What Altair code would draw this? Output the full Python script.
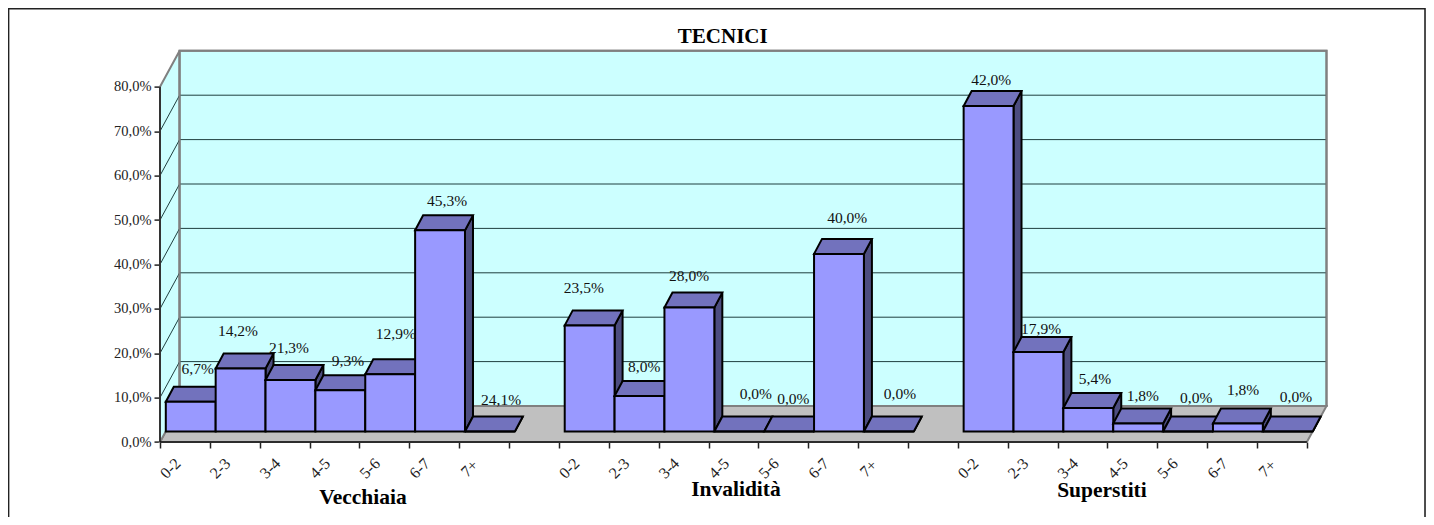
import altair as alt
import pandas as pd

# ---- values ----
groups = ["Vecchiaia", "Invalidità", "Superstiti"]
classes = ["0-2", "2-3", "3-4", "4-5", "5-6", "6-7", "7+"]
heights_vecchiaia = [6.7, 14.2, 11.6, 9.3, 12.9, 45.3, 0.0]
heights_invalidita = [23.9, 8.0, 27.9, 0.0, 0.0, 40.0, 0.0]
heights_superstiti = [73.3, 17.9, 5.3, 1.8, 0.0, 1.8, 0.0]
labels_vecchiaia = ["6,7%", "14,2%", "21,3%", "9,3%", "12,9%", "45,3%", "24,1%"]
labels_invalidita = ["23,5%", "8,0%", "28,0%", "0,0%", "0,0%", "40,0%", "0,0%"]
labels_superstiti = ["42,0%", "17,9%", "5,4%", "1,8%", "0,0%", "1,8%", "0,0%"]
# where each data label sits, in axis units (category position, percent)
label_cat = [0.756, 1.564, 2.587, 3.77, 4.73, 5.756, 6.84,
             8.50, 9.71, 10.61, 11.95, 12.70, 13.78, 14.84,
             16.67, 17.67, 18.75, 19.71, 20.78, 21.72, 22.78]
label_pct = [16.4, 25.0, 21.2, 18.2, 24.3, 54.3, 9.5,
             34.7, 16.9, 37.4, 10.8, 9.7, 50.5, 10.8,
             81.5, 25.5, 14.2, 10.4, 9.9, 11.7, 10.1]
group_cat = [4.07, 11.55, 18.89]
group_pct = [-12.6, -10.8, -11.0]
y_ticks = [0, 10, 20, 30, 40, 50, 60, 70, 80]

# ---- geometry of the pseudo-3D box ----
N = 23
STEP = 49.86
PX = 4.44
WALL_DX, WALL_DY = 19.6 / STEP, 36 / PX
BAR_DX, BAR_DY = 8 / STEP, 15 / PX
BAR_X0, BAR_Y0 = 5.8 / STEP, 10.5 / PX
W, H = 1166.5, 391.4
XMAX, YMAX = N + WALL_DX, H / PX
FRONT, TOP, SIDE = "#9999FF", "#7272BD", "#4D4D80"

def poly(rows, pid, fill, stroke):
    return [dict(x=a, y=b, y2=c, pid=pid, fill=fill, stroke=stroke) for a, b, c in rows]

walls = []
walls += poly([(0, 0, 0), (WALL_DX, 0, WALL_DY), (N, 0, WALL_DY), (N + WALL_DX, WALL_DY, WALL_DY)],
              "a_floor", "#C0C0C0", "#808080")
walls += poly([(0, 0, 80), (WALL_DX, WALL_DY, 80 + WALL_DY)], "b_side", "#CCFFFF", "#808080")
walls += poly([(WALL_DX, WALL_DY, 80 + WALL_DY), (N + WALL_DX, WALL_DY, 80 + WALL_DY)],
              "c_back", "#CCFFFF", "#808080")
walls = pd.DataFrame(walls)

grid = []
for t in y_ticks[1:-1]:
    grid += [dict(x=0, y=t, g=t), dict(x=WALL_DX, y=t + WALL_DY, g=t), dict(x=N + WALL_DX, y=t + WALL_DY, g=t)]
grid = pd.DataFrame(grid)

faces = []
for gi, hs in enumerate([heights_vecchiaia, heights_invalidita, heights_superstiti]):
    for ci, h in enumerate(hs):
        L = gi * 8 + ci + BAR_X0
        R = L + 1
        b = BAR_Y0
        t = BAR_Y0 + h
        k = f"{gi}{ci}"
        faces += poly([(R, b, t), (R + BAR_DX, b + BAR_DY, t + BAR_DY)], k + "s", SIDE, "black")
        faces += poly([(L, t, t), (L + BAR_DX, t, t + BAR_DY), (R, t, t + BAR_DY), (R + BAR_DX, t + BAR_DY, t + BAR_DY)],
                      k + "t", TOP, "black")
        faces += poly([(L, b, t), (R, b, t)], k + "f", FRONT, "black")
faces = pd.DataFrame(faces)

value_labels = pd.DataFrame(dict(
    x=label_cat, y=label_pct,
    t=labels_vecchiaia + labels_invalidita + labels_superstiti))
group_labels = pd.DataFrame(dict(x=group_cat, y=group_pct, t=groups))
x_names = classes + [""] + classes + [""] + classes + [""]

xs = alt.Scale(domain=[0, XMAX], nice=False, zero=False)
ys = alt.Scale(domain=[0, YMAX], nice=False, zero=False)
SERIF = "Liberation Serif"
label_js = "[" + ",".join(f"'{n}'" for n in x_names) + "]"

x_axis = alt.Axis(
    values=list(range(N + 1)), domain=False, grid=False, tickSize=6, tickColor="#222222", tickWidth=1.5,
    labelExpr=label_js + "[datum.value]", labelAngle=315, labelAlign="center", labelBaseline="middle",
    labelOffset=10, labelPadding=20, labelFont=SERIF, labelFontSize=16, labelColor="#222222",
    labelOverlap=False, labelFlush=False, title=None)
y_axis = alt.Axis(
    values=y_ticks, domain=False, grid=False, tickSize=6, tickColor="#222222", tickWidth=1.5,
    labelExpr="replace(format(datum.value,'.1f'),'.',',')+'%'", labelPadding=3,
    labelFont=SERIF, labelFontSize=14.5, labelColor="#222222", title=None)

def X(f="x"):
    return alt.X(f + ":Q", scale=xs, axis=x_axis)
def Y(f="y"):
    return alt.Y(f + ":Q", scale=ys, axis=y_axis, stack=None)

wall_layer = alt.Chart(walls).mark_area(strokeWidth=2, strokeJoin="miter").encode(
    x=X(), y=Y(), y2="y2:Q",
    color=alt.Color("fill:N", scale=None),
    stroke=alt.Stroke("stroke:N", scale=None),
    detail="pid:N",
)

grid_layer = alt.Chart(grid).mark_line(color="#1f3f3f", strokeWidth=1).encode(
    x=X(), y=Y(), detail="g:N", order="x:Q")

# wall outline repainted over the grid ends
back_edge = alt.Chart(pd.DataFrame(dict(x=[WALL_DX], x2=[N + WALL_DX], y=[WALL_DY], y2=[80 + WALL_DY]))).mark_rect(
    fillOpacity=0, stroke="#808080", strokeWidth=2).encode(x=X(), x2="x2:Q", y=Y(), y2="y2:Q")

y_line = alt.Chart(pd.DataFrame(dict(x=[0], y=[0], y2=[80]))).mark_rule(color="#333333", strokeWidth=2).encode(
    x=X(), y=Y(), y2="y2:Q")
x_line = alt.Chart(pd.DataFrame(dict(x=[0], x2=[N], y=[0]))).mark_rule(color="#111111", strokeWidth=1.5).encode(
    x=X(), x2="x2:Q", y=Y())

bars = alt.Chart(faces).mark_area(strokeWidth=2, strokeJoin="miter").encode(
    x=X(), y=Y(), y2="y2:Q",
    color=alt.Color("fill:N", scale=None),
    stroke=alt.Stroke("stroke:N", scale=None),
    detail="pid:N",
)

vals = alt.Chart(value_labels).mark_text(font=SERIF, fontSize=15.5, color="#111111").encode(
    x=X(), y=Y(), text="t:N")
names = alt.Chart(group_labels).mark_text(font=SERIF, fontSize=21.5, fontWeight="bold", color="black").encode(
    x=X(), y=Y(), text="t:N")

# outer frame: open at the bottom, as in the picture
LEFT_PAD, TOP_PAD, RIGHT_PAD, BOTTOM_PAD = 152, 42.6, 99.5, 75
fx0, fx1 = -LEFT_PAD / STEP + 0.6 / STEP, XMAX + (RIGHT_PAD - 1) / STEP
fy1, fy0 = YMAX + (TOP_PAD - 0.7) / PX, -BOTTOM_PAD / PX
frame = pd.DataFrame(dict(x=[fx0, fx0, fx1, fx1], y=[fy0, fy1, fy1, fy0], o=[0, 1, 2, 3]))
frame_layer = alt.Chart(frame).mark_line(color="#222222", strokeWidth=1.6, strokeJoin="miter").encode(
    x=X(), y=Y(), order="o:Q")

chart = alt.layer(wall_layer, grid_layer, back_edge, y_line, x_line, bars, vals, names, frame_layer).properties(
    width=W, height=H,
    title=alt.TitleParams("TECNICI", font=SERIF, fontSize=21, fontWeight="bold", color="black",
                          anchor="middle", dx=-20.5, offset=-41, frame="group"),
    autosize=alt.AutoSizeParams(type="none"),
    padding=dict(left=LEFT_PAD, top=TOP_PAD, right=RIGHT_PAD, bottom=BOTTOM_PAD),
    background="white",
).configure_view(stroke=None)

chart.save("out.html", embed_options={"renderer": "svg", "actions": False})
